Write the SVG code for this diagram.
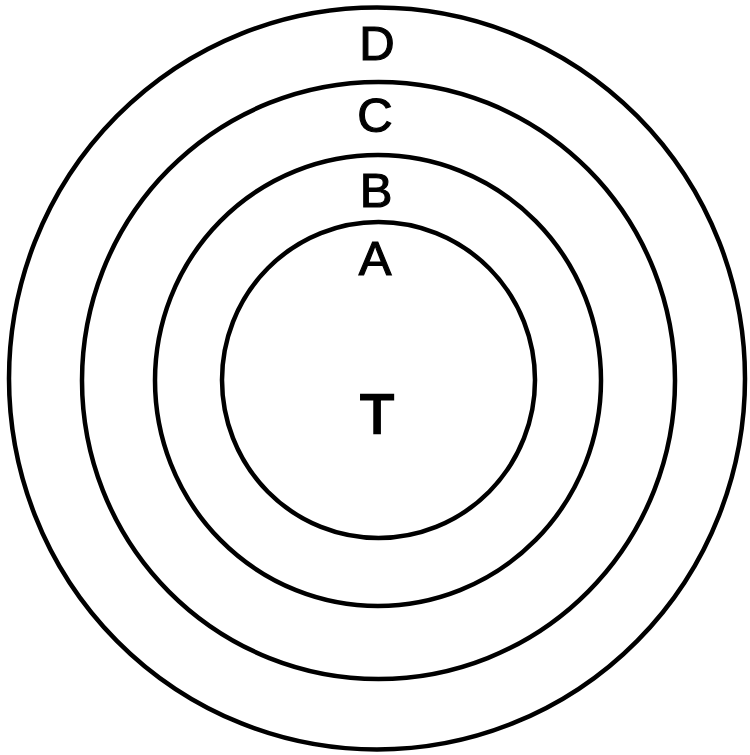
<svg xmlns="http://www.w3.org/2000/svg" width="750" height="755" viewBox="0 0 750 755">
<style>
.ring{fill:none;stroke:#000;stroke-width:4.5}
.lbl{font-family:"Liberation Sans",Arial,sans-serif;font-size:49px;fill:#000;stroke:#000;stroke-width:1.2;text-anchor:middle}
</style>
<rect width="750" height="755" fill="#fff"/>
<g id="ringD"><ellipse class="ring" cx="377" cy="378.5" rx="368" ry="371"/><text class="lbl" x="377" y="60">D</text></g>
<g id="ringC"><ellipse class="ring" cx="378.5" cy="380.5" rx="296.5" ry="298.5"/><text class="lbl" x="375" y="132">C</text></g>
<g id="ringB"><ellipse class="ring" cx="378" cy="380.5" rx="223" ry="225.5"/><text class="lbl" x="376" y="207">B</text></g>
<g id="ringA"><ellipse class="ring" cx="378.5" cy="380" rx="156.5" ry="158"/><text class="lbl" x="375" y="275">A</text></g>
<g id="coreT"><text class="lbl" x="377" y="433" style="font-size:56px;stroke-width:2.5">T</text></g>
<g id="connectors"/>
</svg>
